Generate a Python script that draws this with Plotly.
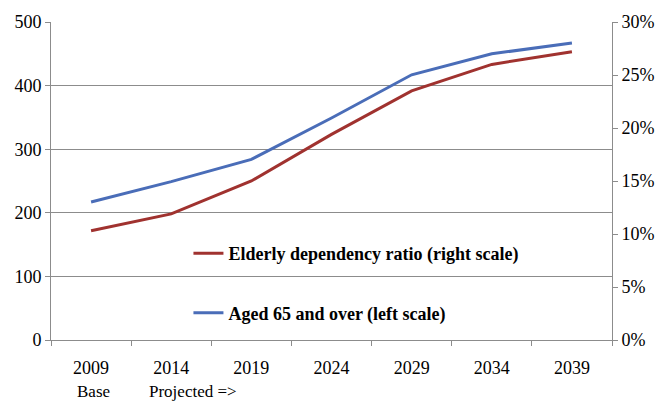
import plotly.graph_objects as go

years = ["2009", "2014", "2019", "2024", "2029", "2034", "2039"]
aged65 = [217, 249, 284, 349, 417, 450, 467]
dependency = [0.103, 0.119, 0.150, 0.194, 0.235, 0.260, 0.272]
sub_labels = ["Base", "Projected =>"]

red = "#A0322F"
blue = "#4A6DB8"
grid = "#8C8C8C"
font = "Liberation Serif"

fig = go.Figure()
fig.add_trace(go.Scatter(x=years, y=dependency, mode="lines", yaxis="y2",
                         name="<b>Elderly dependency ratio (right scale)</b>",
                         line=dict(color=red, width=3), legendgroup="a"))
fig.add_trace(go.Scatter(x=years, y=aged65, mode="lines",
                         name="<b>Aged 65 and over (left scale)</b>",
                         line=dict(color=blue, width=3), legendgroup="b"))

fig.update_layout(
    width=667, height=407,
    margin=dict(l=51, r=50, t=13, b=67),
    paper_bgcolor="white", plot_bgcolor="white",
    font=dict(family=font, size=18, color="black"),
    xaxis=dict(type="category", range=[-0.5, 6.5], tickson="boundaries",
               ticks="outside", ticklen=5,
               tickcolor=grid, showline=True, linecolor=grid, linewidth=1,
               showgrid=False, ticklabelstandoff=11),
    yaxis=dict(range=[0, 500], dtick=100, ticks="outside", ticklen=5, tickcolor=grid,
               showline=True, linecolor=grid, linewidth=1,
               showgrid=True, gridcolor=grid, gridwidth=1, zeroline=False),
    yaxis2=dict(range=[0, 0.30], dtick=0.05, tickformat=".0%", overlaying="y",
                side="right", ticks="outside", ticklen=5, tickcolor=grid,
                showline=True, linecolor=grid, linewidth=1, showgrid=False,
                zeroline=False),
    showlegend=True,
    legend=dict(x=0.245, y=0.33, xanchor="left", yanchor="top",
                bgcolor="rgba(0,0,0,0)", traceorder="grouped", tracegroupgap=33,
                font=dict(family=font, size=18, color="black")),
)

for label, xp in zip(sub_labels, [0.076, 0.2527]):
    fig.add_annotation(text=label, x=xp, y=-0.162, xref="paper", yref="paper",
                       showarrow=False, xanchor="center", yanchor="middle",
                       font=dict(family=font, size=17, color="black"))

fig.write_html("out.html")
